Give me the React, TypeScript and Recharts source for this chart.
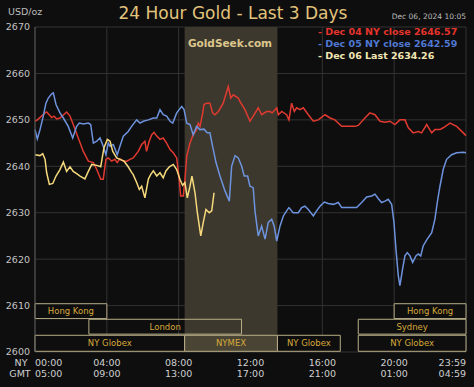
import React from 'react';
import { LineChart, Line, XAxis, YAxis, CartesianGrid, ReferenceArea } from 'recharts';

// [hour of NY day, price]
const dec04: [number, number][] = [
  [0, 2649.7], [0.13, 2650.0], [0.56, 2651.5], [0.65, 2651.7], [0.84, 2650.9], [0.93, 2650.5],
  [1.06, 2650.8], [1.21, 2650.2], [1.39, 2650.4], [1.76, 2651.7], [1.95, 2650.8], [2.13, 2649.0],
  [2.41, 2646.1], [2.69, 2643.2], [2.97, 2641.1], [3.25, 2640.8], [3.44, 2639.3], [3.66, 2637.2],
  [3.8, 2637.2], [3.95, 2641.5], [4.08, 2641.8], [4.27, 2641.1], [4.45, 2641.5], [4.58, 2640.8],
  [4.73, 2641.6], [4.92, 2641.1], [5.11, 2641.1], [5.29, 2641.5], [5.47, 2641.8], [5.75, 2643.2],
  [5.94, 2644.7], [6.12, 2645.4], [6.21, 2643.2], [6.36, 2645.4], [6.5, 2646.8], [6.63, 2647.3],
  [6.78, 2646.5], [6.96, 2645.8], [7.14, 2646.1], [7.33, 2645.0], [7.52, 2643.6], [7.7, 2642.9],
  [7.89, 2641.8], [8.03, 2637.2], [8.11, 2633.6], [8.26, 2633.6], [8.35, 2637.2], [8.45, 2642.2],
  [8.63, 2645.0], [8.81, 2646.8], [9.0, 2647.9], [9.09, 2649.3], [9.19, 2648.6], [9.34, 2651.5],
  [9.41, 2653.3], [9.56, 2653.6], [9.74, 2653.6], [9.89, 2651.5], [10.02, 2651.1], [10.21, 2651.8],
  [10.48, 2653.6], [10.76, 2657.2], [10.9, 2654.7], [11.04, 2655.4], [11.32, 2654.7], [11.41, 2654.0],
  [11.69, 2652.2], [11.97, 2649.7], [12.15, 2650.8], [12.43, 2652.6], [12.62, 2651.1], [12.9, 2651.8],
  [13.08, 2651.8], [13.21, 2651.5], [13.46, 2652.6], [13.55, 2651.1], [13.74, 2651.8], [14.01, 2651.1],
  [14.14, 2650.0], [14.29, 2653.6], [14.44, 2651.8], [14.57, 2652.6], [14.75, 2652.2], [14.94, 2652.6],
  [15.22, 2651.1], [15.5, 2649.7], [15.77, 2650.0], [16.15, 2651.1], [16.43, 2650.4], [16.7, 2650.0],
  [17.08, 2648.6], [17.44, 2648.6], [17.82, 2648.6], [18.0, 2648.8], [18.37, 2650.4], [18.65, 2651.5],
  [18.93, 2651.1], [19.21, 2649.7], [19.49, 2649.5], [19.77, 2649.7], [20.04, 2649.0], [20.32, 2650.0],
  [20.6, 2650.0], [20.79, 2648.3], [21.06, 2647.2], [21.34, 2647.5], [21.53, 2647.2], [21.81, 2649.0],
  [22.09, 2647.2], [22.27, 2647.9], [22.55, 2647.9], [22.73, 2648.3], [23.11, 2649.3], [23.48, 2648.6],
  [23.85, 2647.2], [24, 2646.6],
];

const dec05: [number, number][] = [
  [0, 2647.9], [0.13, 2645.9], [0.28, 2647.9], [0.46, 2650.8], [0.61, 2653.6], [0.74, 2654.7],
  [0.93, 2655.6], [1.02, 2655.8], [1.17, 2653.3], [1.39, 2651.5], [1.58, 2650.4], [1.85, 2648.6],
  [2.1, 2646.1], [2.32, 2648.6], [2.47, 2649.3], [2.69, 2649.1], [2.97, 2649.3], [3.1, 2649.0],
  [3.25, 2645.0], [3.44, 2645.4], [3.62, 2646.1], [3.8, 2644.3], [3.95, 2642.5], [4.08, 2645.0],
  [4.18, 2644.3], [4.36, 2644.7], [4.58, 2642.5], [4.73, 2644.3], [4.92, 2646.5], [5.19, 2647.5],
  [5.38, 2648.6], [5.66, 2650.0], [5.85, 2649.3], [6.03, 2649.7], [6.31, 2650.0], [6.59, 2650.4],
  [6.78, 2650.4], [6.96, 2652.2], [7.14, 2651.1], [7.33, 2650.8], [7.52, 2649.7], [7.67, 2649.3],
  [7.89, 2651.5], [8.17, 2652.9], [8.3, 2652.2], [8.45, 2649.3], [8.63, 2649.0], [8.81, 2646.8],
  [9.0, 2648.6], [9.19, 2647.9], [9.41, 2648.0], [9.59, 2647.2], [9.74, 2647.2], [9.89, 2644.3],
  [10.08, 2640.8], [10.3, 2637.9], [10.58, 2634.7], [10.82, 2632.5], [10.95, 2640.0], [11.14, 2642.3],
  [11.32, 2641.8], [11.51, 2640.0], [11.65, 2637.9], [11.84, 2637.9], [11.97, 2635.7], [12.15, 2635.4],
  [12.25, 2630.4], [12.43, 2625.0], [12.62, 2627.1], [12.81, 2624.3], [12.99, 2627.9], [13.18, 2628.6],
  [13.32, 2627.1], [13.46, 2623.9], [13.64, 2627.1], [13.83, 2629.3], [14.01, 2630.4], [14.14, 2631.1],
  [14.38, 2630.0], [14.66, 2630.0], [14.85, 2631.1], [15.03, 2631.4], [15.22, 2630.7], [15.5, 2629.3],
  [15.68, 2630.4], [15.87, 2631.4], [16.11, 2632.3], [16.33, 2632.0], [16.61, 2631.8], [16.89, 2632.2],
  [17.08, 2631.1], [17.36, 2631.1], [17.91, 2631.1], [18.19, 2632.2], [18.47, 2633.4], [18.75, 2633.6],
  [18.93, 2634.0], [19.12, 2633.0], [19.3, 2632.2], [19.49, 2632.5], [19.67, 2632.9], [19.86, 2631.8],
  [19.99, 2627.9], [20.1, 2622.1], [20.23, 2616.4], [20.32, 2614.3], [20.47, 2617.9], [20.6, 2620.7],
  [20.73, 2621.4], [20.88, 2620.7], [21.03, 2619.3], [21.21, 2620.7], [21.34, 2621.1], [21.48, 2620.7],
  [21.62, 2622.9], [21.84, 2624.3], [22.09, 2625.7], [22.27, 2628.6], [22.4, 2632.2], [22.55, 2635.7],
  [22.73, 2639.3], [22.92, 2641.5], [23.2, 2642.5], [23.48, 2642.9], [23.85, 2643.0], [24, 2642.9],
];

const dec06: [number, number][] = [
  [0, 2642.5], [0.28, 2642.3], [0.43, 2642.7], [0.56, 2641.5], [0.65, 2638.6], [0.8, 2636.1],
  [0.99, 2636.3], [1.17, 2637.9], [1.39, 2639.3], [1.58, 2640.9], [1.76, 2638.9], [1.95, 2639.9],
  [2.13, 2638.9], [2.32, 2638.4], [2.51, 2637.9], [2.78, 2637.3], [2.97, 2638.9], [3.16, 2640.4],
  [3.44, 2640.2], [3.66, 2639.9], [3.84, 2644.0], [4.03, 2645.8], [4.18, 2645.4], [4.33, 2643.2],
  [4.55, 2641.8], [4.73, 2641.5], [4.96, 2641.1], [5.19, 2639.9], [5.38, 2638.7], [5.47, 2638.2],
  [5.66, 2636.5], [5.81, 2635.0], [5.94, 2635.7], [6.12, 2633.2], [6.31, 2637.2], [6.44, 2638.2],
  [6.59, 2639.0], [6.78, 2637.9], [6.96, 2638.6], [7.14, 2637.5], [7.29, 2639.0], [7.48, 2639.9],
  [7.7, 2640.4], [7.89, 2639.3], [8.07, 2637.2], [8.22, 2635.9], [8.35, 2636.5], [8.48, 2633.2],
  [8.63, 2635.7], [8.74, 2637.9], [8.91, 2634.3], [9.04, 2630.0], [9.23, 2625.0], [9.37, 2627.9],
  [9.52, 2630.7], [9.7, 2630.0], [9.84, 2630.4], [9.97, 2634.3],
];

const legendLines = [
  { text: '- Dec 04 NY close 2646.57', color: '#e5342c' },
  { text: '- Dec 05 NY close 2642.59', color: '#5078d2' },
  { text: '- Dec 06 Last 2634.26', color: '#f3e7b4' },
];

const yTicks = [2600, 2610, 2620, 2630, 2640, 2650, 2660, 2670];
const hourTicks = [0, 4, 8, 12, 16, 20, 24];
const nyLabels = ['00:00', '04:00', '08:00', '12:00', '16:00', '20:00', '23:59'];
const gmtLabels = ['05:00', '09:00', '13:00', '17:00', '21:00', '01:00', '04:59'];

// trading sessions: start/end hour (NY), row of the box strip
const sessions = [
  { name: 'Hong Kong', start: 0, end: 4, row: 0 },
  { name: 'Hong Kong', start: 20, end: 24, row: 0 },
  { name: 'London', start: 3, end: 11.5, row: 1 },
  { name: 'Sydney', start: 18, end: 24, row: 1 },
  { name: 'NY Globex', start: 0, end: 8.333, row: 2 },
  { name: 'NYMEX', start: 8.333, end: 13.5, row: 2 },
  { name: 'NY Globex', start: 13.5, end: 17, row: 2 },
  { name: 'NY Globex', start: 18, end: 24, row: 2 },
];
const nymexHours = [8.333, 13.5];

const FONT = '"DejaVu Sans", Verdana, sans-serif';
const rowBands: [number, number][] = [
  [2607.2, 2610.4],
  [2603.85, 2607.05],
  [2600.15, 2603.6],
];

const toPts = (arr: [number, number][]) => arr.map(([h, p]) => ({ h, p }));

const TimeTick = (props: any) => {
  const { x, payload } = props;
  const i = hourTicks.indexOf(payload.value);
  const anchor = i === 0 ? 'start' : i === hourTicks.length - 1 ? 'end' : 'middle';
  return (
    <g>
      <text x={x} y={366} textAnchor={anchor} fill="#cfcfcf" fontSize={9.5} fontFamily={FONT}>
        {nyLabels[i]}
      </text>
      <text x={x} y={377} textAnchor={anchor} fill="#cfcfcf" fontSize={9.5} fontFamily={FONT}>
        {gmtLabels[i]}
      </text>
    </g>
  );
};

export default function App() {
  return (
    <div style={{ position: 'absolute', left: 0, top: 0, width: 474, height: 387, background: '#0e0e0e', fontFamily: FONT }}>
      <LineChart width={474} height={387} margin={{ top: 27, right: 8, bottom: 0, left: 0 }}>
        <ReferenceArea x1={nymexHours[0]} x2={nymexHours[1]} y1={2600} y2={2670} fill="#3c382d" fillOpacity={1} stroke="none" />
        <CartesianGrid stroke="#333" strokeWidth={1} />
        <XAxis
          type="number"
          dataKey="h"
          domain={[0, 24]}
          ticks={hourTicks}
          interval={0}
          height={35}
          axisLine={false}
          tickLine={false}
          tick={<TimeTick />}
        />
        <YAxis
          type="number"
          domain={[2600, 2670]}
          ticks={yTicks}
          interval={0}
          width={35}
          axisLine={{ stroke: '#555' }}
          tickLine={false}
          tickSize={0}
          tickMargin={5}
          tick={{ fill: '#c4c4c4', fontSize: 9.5, fontFamily: FONT }}
        />
        {sessions.map((s, i) => (
          <ReferenceArea
            key={i}
            x1={s.start}
            x2={s.end}
            y1={rowBands[s.row][0]}
            y2={rowBands[s.row][1]}
            fill={s.name === 'NYMEX' ? '#4a4434' : '#0e0e0e'}
            fillOpacity={s.name === 'London' ? 0 : 1}
            stroke="#b8ae88"
            strokeWidth={1}
            label={{ value: s.name, position: 'center', fill: '#d6a93c', fontSize: 8.5, fontFamily: FONT }}
          />
        ))}
        <Line data={toPts(dec04)} dataKey="p" type="linear" stroke="#e03a30" strokeWidth={1.5} dot={false} isAnimationActive={false} />
        <Line data={toPts(dec05)} dataKey="p" type="linear" stroke="#6e93de" strokeWidth={1.5} dot={false} isAnimationActive={false} />
        <Line data={toPts(dec06)} dataKey="p" type="linear" stroke="#f5d97c" strokeWidth={1.5} dot={false} isAnimationActive={false} />
      </LineChart>
      <svg width={474} height={387} style={{ position: 'absolute', left: 0, top: 0, pointerEvents: 'none' }}>
        <text x={8} y={15} fill="#bdbdbd" fontSize={9.5} fontFamily={FONT}>USD/oz</text>
        <text x={233} y={19} textAnchor="middle" fill="#e2c37c" fontSize={17} fontFamily={FONT}>24 Hour Gold - Last 3 Days</text>
        <text x={466} y={19} textAnchor="end" fill="#bdbdbd" fontSize={7.5} fontFamily={FONT}>Dec 06, 2024  10:05</text>
        <text x={230} y={47} textAnchor="middle" fill="#dcc68c" fontSize={10.5} fontWeight="bold" fontFamily={FONT}>GoldSeek.com</text>
        {legendLines.map((l, i) => (
          <text key={i} x={318} y={35 + i * 12} fill={l.color} fontSize={9.5} fontWeight="bold" fontFamily={FONT}>{l.text}</text>
        ))}
        <text x={21} y={366} textAnchor="middle" fill="#cfcfcf" fontSize={9.5} fontFamily={FONT}>NY</text>
        <text x={20} y={377} textAnchor="middle" fill="#cfcfcf" fontSize={9.5} fontFamily={FONT}>GMT</text>
      </svg>
    </div>
  );
}
